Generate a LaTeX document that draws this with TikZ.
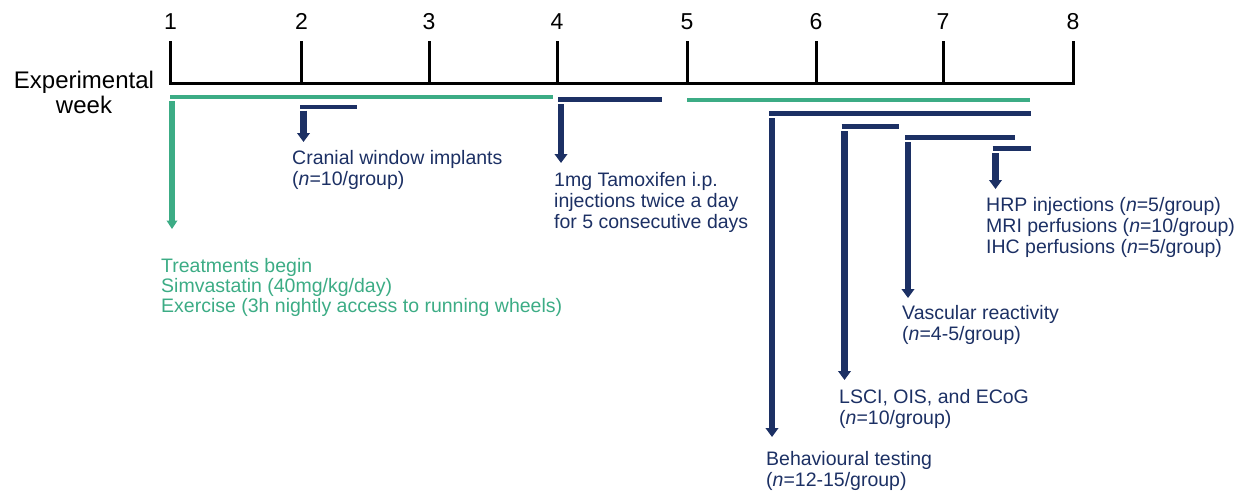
\documentclass[tikz,border=0pt]{standalone}
\usepackage{fontspec}
\setmainfont{Liberation Sans}
\usetikzlibrary{arrows.meta}
\definecolor{tealgreen}{RGB}{60,172,133}
\definecolor{navyblue}{RGB}{28,48,100}
\begin{document}
\begin{tikzpicture}[x=1pt,y=-1pt,
  axisline/.style={line width=3pt, line join=miter},
  weeknum/.style={anchor=base, inner sep=0pt, font=\fontsize{23}{27}\selectfont},
  greenbar/.style={tealgreen, line width=4.5pt},
  navybar/.style={navyblue, line width=5pt},
  greenarrow/.style={tealgreen, line width=5.5pt, -{Triangle[width=10.5pt,length=8.5pt]}},
  navyarrow/.style={navyblue, line width=6.2pt, -{Triangle[width=12.5pt,length=9pt]}},
  % multi-line notes are placed by the baseline of their last line
  note/.style={anchor=base west, inner sep=0pt, align=left, font=\fontsize{19.5}{20.8}\selectfont},
]
\useasboundingbox (0,0) rectangle (1244,491);

% --- week axis ---------------------------------------------------------
\foreach \n/\x in {1/170.5, 2/301.5, 3/429, 4/557, 5/687, 6/816, 7/943, 8/1073} {
  \coordinate (w\n) at (\x,83);
  \coordinate (wtop\n) at (\x,41);
  \node[weeknum] (num\n) at (\x,29) {\n};
}
\draw[axisline] (wtop1) -- (w1) -- (w8) -- (wtop8);
\foreach \n in {2,...,7} { \draw[axisline] (w\n) -- (wtop\n); }
\node[anchor=base, inner sep=0pt, align=center, font=\fontsize{24}{25}\selectfont]
  (axislabel) at (84,113) {Experimental\\week};

% --- treatment periods ---------------------------------------------------
\coordinate (treatA) at (170,97);   \coordinate (treatAend) at (553,97);
\coordinate (treatB) at (687,100);  \coordinate (treatBend) at (1030,100);
\draw[greenbar] (treatA) -- (treatAend);
\draw[greenbar] (treatB) -- (treatBend);

\coordinate (treatStem) at (172,101);
\coordinate (treatTip)  at (172,229);
\draw[greenarrow] (treatStem) -- (treatTip);
\node[note, tealgreen, font=\fontsize{19.5}{20.2}\selectfont] (treat) at (161,312.5)
  {Treatments begin\\Simvastatin (40mg/kg/day)\\Exercise (3h nightly access to running wheels)};

% --- cranial window ------------------------------------------------------
\coordinate (craniA) at (300,107); \coordinate (craniAend) at (357,107);
\draw[navybar, line width=4pt] (craniA) -- (craniAend);
\coordinate (craniStem) at (303.5,110.5);
\coordinate (craniTip)  at (303.5,142);
\draw[navyarrow] (craniStem) -- (craniTip);
\node[note, navyblue] (crani) at (292,185)
  {Cranial window implants\\(\textit{n}=10/group)};

% --- tamoxifen -----------------------------------------------------------
\coordinate (tamA) at (558,99); \coordinate (tamAend) at (662,99);
\draw[navybar] (tamA) -- (tamAend);
\coordinate (tamStem) at (561,104);
\coordinate (tamTip)  at (561,163);
\draw[navyarrow] (tamStem) -- (tamTip);
\node[note, navyblue] (tam) at (554,228.5)
  {1mg Tamoxifen i.p.\\injections twice a day\\for 5 consecutive days};

% --- behavioural testing -------------------------------------------------
\coordinate (behA) at (769,113.5); \coordinate (behAend) at (1031,113.5);
\draw[navybar] (behA) -- (behAend);
\coordinate (behStem) at (772,118);
\coordinate (behTip)  at (772,437);
\draw[navyarrow] (behStem) -- (behTip);
\node[note, navyblue] (beh) at (766,486)
  {Behavioural testing\\(\textit{n}=12-15/group)};

% --- LSCI, OIS, ECoG -----------------------------------------------------
\coordinate (lsA) at (841.5,126); \coordinate (lsAend) at (899,126);
\draw[navybar] (lsA) -- (lsAend);
\coordinate (lsStem) at (844.5,131);
\coordinate (lsTip)  at (844.5,380);
\draw[navyarrow] (lsStem) -- (lsTip);
\node[note, navyblue] (ls) at (839,424)
  {LSCI, OIS, and ECoG\\(\textit{n}=10/group)};

% --- vascular reactivity -------------------------------------------------
\coordinate (vaA) at (905,137); \coordinate (vaAend) at (1015,137);
\draw[navybar] (vaA) -- (vaAend);
\coordinate (vaStem) at (908,142);
\coordinate (vaTip)  at (908,298);
\draw[navyarrow] (vaStem) -- (vaTip);
\node[note, navyblue] (va) at (902,340)
  {Vascular reactivity\\(\textit{n}=4-5/group)};

% --- HRP / MRI / IHC -----------------------------------------------------
\coordinate (hrA) at (992.5,148); \coordinate (hrAend) at (1031,148);
\draw[navybar] (hrA) -- (hrAend);
\coordinate (hrStem) at (995.5,153);
\coordinate (hrTip)  at (995.5,189);
\draw[navyarrow] (hrStem) -- (hrTip);
\node[note, navyblue] (hr) at (986,253.5)
  {HRP injections (\textit{n}=5/group)\\MRI perfusions (\textit{n}=10/group)\\IHC perfusions (\textit{n}=5/group)};
\end{tikzpicture}
\end{document}
